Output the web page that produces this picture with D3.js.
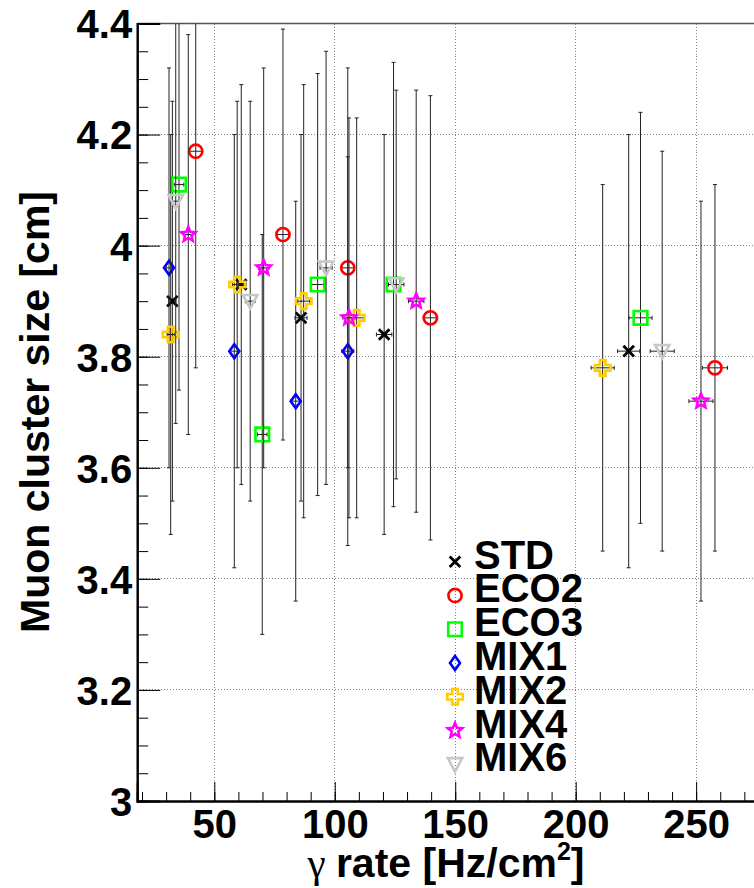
<!DOCTYPE html>
<html>
<head>
<meta charset="utf-8">
<script src="https://cdn.jsdelivr.net/npm/d3@7"></script>
<style>
  html, body { margin: 0; padding: 0; background: #fff; }
  svg { display: block; }
  text { font-family: "Liberation Sans", Arial, Helvetica, sans-serif; font-weight: bold; fill: #000; }
</style>
</head>
<body>
<div id="chart"></div>
<script>
// ---------------- data ----------------
const seriesNames = ["STD", "ECO2", "ECO3", "MIX1", "MIX2", "MIX4", "MIX6"];

const stdX  = [32.6, 61.2, 86.0, 120.5, 222.0];
const stdY  = [3.90, 3.93, 3.87, 3.84, 3.81];
const stdEY = [0.36, 0.36, 0.33, 0.36, 0.39];
const stdEX = [1.5, 2.0, 2.5, 3.2, 4.6];

const eco2X  = [42.3, 78.5, 105.4, 139.7, 257.8];
const eco2Y  = [4.17, 4.02, 3.96, 3.87, 3.78];
const eco2EY = [0.39, 0.37, 0.36, 0.40, 0.33];
const eco2EX = [2.8, 2.5, 2.5, 3.0, 5.2];

const eco3X  = [35.35, 69.9, 92.9, 124.4, 226.9];
const eco3Y  = [4.11, 3.66, 3.93, 3.93, 3.87];
const eco3EY = [0.37, 0.36, 0.38, 0.40, 0.37];
const eco3EX = [2.0, 2.0, 2.5, 3.0, 4.8];

const mix1X  = [31.2, 58.3, 83.8, 105.4];
const mix1Y  = [3.96, 3.81, 3.72, 3.81];
const mix1EY = [0.36, 0.39, 0.36, 0.35];
const mix1EX = [1.2, 1.8, 2.0, 2.5];

const mix2X  = [31.9, 59.5, 87.1, 109.1, 211.2];
const mix2Y  = [3.84, 3.93, 3.90, 3.87, 3.78];
const mix2EY = [0.36, 0.33, 0.39, 0.36, 0.33];
const mix2EX = [1.5, 2.0, 2.5, 3.0, 4.8];

const mix4X  = [39.2, 70.5, 105.9, 133.8, 252.0];
const mix4Y  = [4.02, 3.96, 3.87, 3.90, 3.72];
const mix4EY = [0.36, 0.36, 0.36, 0.38, 0.36];
const mix4EX = [1.8, 2.2, 2.5, 3.2, 5.0];

const mix6X  = [34.0, 64.9, 96.4, 125.5, 235.9];
const mix6Y  = [4.08, 3.90, 3.96, 3.93, 3.81];
const mix6EY = [0.40, 0.36, 0.39, 0.35, 0.36];
const mix6EX = [1.5, 2.0, 2.5, 3.2, 5.0];

const xMajorTicks = [50, 100, 150, 200, 250];
const yMajorTicks = [3, 3.2, 3.4, 3.6, 3.8, 4, 4.2, 4.4];
const yTickLabels = ["3", "3.2", "3.4", "3.6", "3.8", "4", "4.2", "4.4"];

const xTitle = "rate [Hz/cm";
const yTitle = "Muon cluster size [cm]";

// ---------------- styles ----------------
const markerStyle = {
  STD:  { shape: "x",        color: "#000000" },
  ECO2: { shape: "circle",   color: "#ff0000" },
  ECO3: { shape: "square",   color: "#00ff00" },
  MIX1: { shape: "diamond",  color: "#0000ff" },
  MIX2: { shape: "cross",    color: "#ffcc00" },
  MIX4: { shape: "star",     color: "#ff00ff" },
  MIX6: { shape: "triangle", color: "#c8c8c8" }
};

const seriesData = {
  STD:  { x: stdX,  y: stdY,  ey: stdEY,  ex: stdEX },
  ECO2: { x: eco2X, y: eco2Y, ey: eco2EY, ex: eco2EX },
  ECO3: { x: eco3X, y: eco3Y, ey: eco3EY, ex: eco3EX },
  MIX1: { x: mix1X, y: mix1Y, ey: mix1EY, ex: mix1EX },
  MIX2: { x: mix2X, y: mix2Y, ey: mix2EY, ex: mix2EX },
  MIX4: { x: mix4X, y: mix4Y, ey: mix4EY, ex: mix4EX },
  MIX6: { x: mix6X, y: mix6Y, ey: mix6EY, ex: mix6EX }
};

// ---------------- layout ----------------
const W = 754, H = 888;
const plot = { left: 137.2, top: 23.5, right: 760, bottom: 801 };

const svg = d3.select("#chart").append("svg").attr("width", W).attr("height", H);

const x = d3.scaleLinear().domain([18, 276.5]).range([plot.left, plot.right]);
const y = d3.scaleLinear().domain([3, 4.4]).range([plot.bottom, plot.top]);

svg.append("defs").append("clipPath").attr("id", "clip")
  .append("rect").attr("x", plot.left).attr("y", plot.top)
  .attr("width", plot.right - plot.left).attr("height", plot.bottom - plot.top);

// grid
const grid = svg.append("g").attr("stroke", "#808080").attr("stroke-width", 1)
  .attr("stroke-dasharray", "1,2").attr("shape-rendering", "crispEdges");
grid.selectAll("line.gx").data(xMajorTicks).join("line")
  .attr("x1", d => x(d)).attr("x2", d => x(d)).attr("y1", plot.top).attr("y2", plot.bottom);
grid.selectAll("line.gy").data(yMajorTicks.filter(d => d > 3)).join("line")
  .attr("x1", plot.left).attr("x2", plot.right).attr("y1", d => y(d)).attr("y2", d => y(d));

// top frame line
svg.append("line").attr("x1", plot.left).attr("x2", plot.right)
  .attr("y1", plot.top).attr("y2", plot.top).attr("stroke", "#555").attr("stroke-width", 1.5);

// axes
const yMinor = d3.range(3, 4.4001, 0.05).map(v => +v.toFixed(2));
const xMinor = d3.range(20, 276, 10);

const yAxisMinor = svg.append("g").attr("transform", `translate(${plot.left},0)`)
  .call(d3.axisLeft(y).tickValues(yMinor).tickSize(-11).tickFormat(""));
const yAxis = svg.append("g").attr("transform", `translate(${plot.left},0)`)
  .call(d3.axisLeft(y).tickValues(yMajorTicks).tickSize(-23).tickPadding(5)
    .tickFormat((d, i) => yTickLabels[i]));
const xAxisMinor = svg.append("g").attr("transform", `translate(0,${plot.bottom})`)
  .call(d3.axisBottom(x).tickValues(xMinor).tickSize(-9).tickFormat(""));
const xAxis = svg.append("g").attr("transform", `translate(0,${plot.bottom})`)
  .call(d3.axisBottom(x).tickValues(xMajorTicks).tickSize(-19).tickPadding(9).tickFormat(d3.format("d")));

[yAxisMinor, yAxis, xAxisMinor, xAxis].forEach(g => {
  g.selectAll(".domain").attr("stroke", "#000").attr("stroke-width", 2);
  g.selectAll(".tick line").attr("stroke", "#000").attr("stroke-width", 1);
});
svg.selectAll(".tick text").attr("font-size", 40).attr("font-weight", "bold")
  .attr("font-family", "'Liberation Sans', Arial, sans-serif").attr("fill", "#000");
yAxis.selectAll(".tick text").attr("dy", "0.36em");

// titles
svg.append("text")
  .attr("transform", `translate(49,${412}) rotate(-90)`)
  .attr("text-anchor", "middle").attr("font-size", 41)
  .text(yTitle);

const xt = svg.append("text").attr("x", 446).attr("y", 877)
  .attr("text-anchor", "middle").attr("font-size", 41);
xt.append("tspan").attr("font-family", "'Liberation Serif', 'DejaVu Serif', serif")
  .attr("font-weight", "normal").text("\u03B3 ");
xt.append("tspan").text(xTitle);
xt.append("tspan").attr("font-size", 25).attr("dy", -17).text("2");
xt.append("tspan").attr("dy", 17).text("]");

// markers
function markerPath(shape) {
  switch (shape) {
    case "square": { const s = 6.8; return `M${-s},${-s}H${s}V${s}H${-s}Z`; }
    case "diamond": { const w = 5.0, h = 7.0; return `M0,${-h}L${w},0L0,${h}L${-w},0Z`; }
    case "cross": {
      const o = 7.8, a = 2.8;
      return `M${-a},${-o}H${a}V${-a}H${o}V${a}H${a}V${o}H${-a}V${a}H${-o}V${-a}H${-a}Z`;
    }
    case "star": {
      const R = 7.6, r = 3.4; let p = "";
      for (let i = 0; i < 10; i++) {
        const rad = i % 2 === 0 ? R : r;
        const ang = -Math.PI / 2 + i * Math.PI / 5;
        p += (i === 0 ? "M" : "L") + (rad * Math.cos(ang)).toFixed(2) + "," + (rad * Math.sin(ang)).toFixed(2);
      }
      return p + "Z";
    }
    case "triangle": return "M-7.2,-6.2L7.2,-6.2L0,7.4Z";
    case "x": { const s = 5.3; return `M${-s},${-s}L${s},${s}M${-s},${s}L${s},${-s}`; }
  }
  return "";
}

function drawMarker(g, shape, color) {
  if (shape === "circle") {
    g.append("circle").attr("r", 6.6).attr("fill", "none").attr("stroke", color).attr("stroke-width", 2.6);
  } else {
    g.append("path").attr("d", markerPath(shape)).attr("fill", "none")
      .attr("stroke", color).attr("stroke-width", shape === "x" ? 2.8 : 2.6)
      .attr("stroke-linejoin", "miter");
  }
}

const dataLayer = svg.append("g").attr("clip-path", "url(#clip)");
const cap = 2;
seriesNames.forEach(name => {
  const s = seriesData[name];
  const pts = s.x.map((xv, i) => ({ x: xv, y: s.y[i], ey: s.ey[i], ex: s.ex[i] }));
  const eb = dataLayer.append("g").attr("stroke", "#222").attr("stroke-width", 1);
  pts.forEach(p => {
    const cx = x(p.x), cy = y(p.y);
    const yt = y(p.y + p.ey), yb = y(p.y - p.ey);
    const xl = x(p.x - p.ex), xr = x(p.x + p.ex);
    eb.append("line").attr("x1", cx).attr("x2", cx).attr("y1", yt).attr("y2", yb);
    eb.append("line").attr("x1", cx - cap).attr("x2", cx + cap).attr("y1", yt).attr("y2", yt);
    eb.append("line").attr("x1", cx - cap).attr("x2", cx + cap).attr("y1", yb).attr("y2", yb);
    eb.append("line").attr("x1", xl).attr("x2", xr).attr("y1", cy).attr("y2", cy);
    eb.append("line").attr("x1", xl).attr("x2", xl).attr("y1", cy - cap).attr("y2", cy + cap);
    eb.append("line").attr("x1", xr).attr("x2", xr).attr("y1", cy - cap).attr("y2", cy + cap);
  });
  const mk = dataLayer.append("g");
  pts.forEach(p => {
    const g = mk.append("g").attr("transform", `translate(${x(p.x)},${y(p.y)})`);
    drawMarker(g, markerStyle[name].shape, markerStyle[name].color);
  });
});

// legend
const legY = d3.scalePoint().domain(seriesNames).range([561.7, 764.3]);
const legend = svg.append("g");
seriesNames.forEach(name => {
  const g = legend.append("g").attr("transform", `translate(455,${legY(name)})`);
  drawMarker(g, markerStyle[name].shape, markerStyle[name].color);
  legend.append("text").attr("x", 474).attr("y", legY(name) + 7)
    .attr("font-size", 40).text(name);
});
</script>
</body>
</html>
